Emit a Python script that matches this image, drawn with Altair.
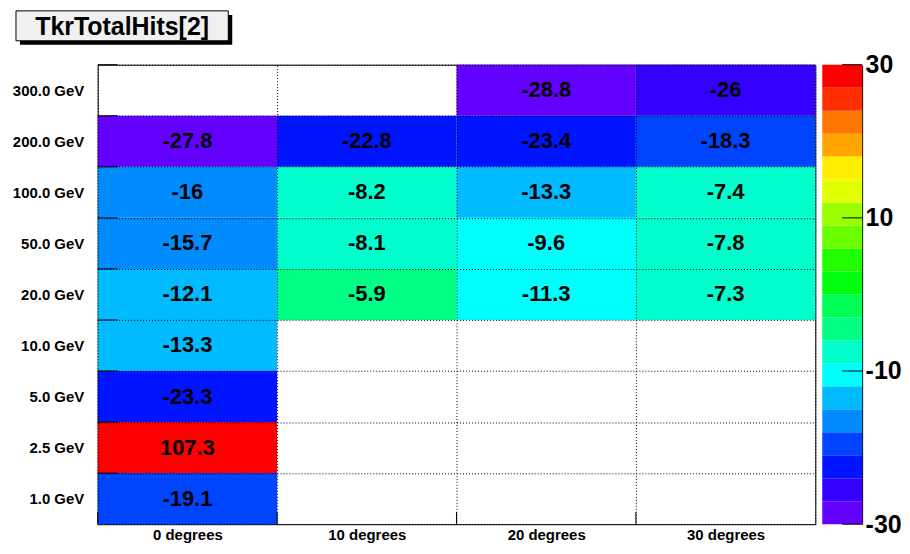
import altair as alt
import pandas as pd

# ---- data ----
title_text = "TkrTotalHits[2]"
angles = ["0 degrees", "10 degrees", "20 degrees", "30 degrees"]
energies = ["1.0 GeV", "2.5 GeV", "5.0 GeV", "10.0 GeV", "20.0 GeV",
            "50.0 GeV", "100.0 GeV", "200.0 GeV", "300.0 GeV"]
# values per energy row, per angle column (None = empty cell)
vals_0deg = [-19.1, 107.3, -23.3, -13.3, -12.1, -15.7, -16.0, -27.8, None]
vals_10deg = [None, None, None, None, -5.9, -8.1, -8.2, -22.8, None]
vals_20deg = [None, None, None, None, -11.3, -9.6, -13.3, -23.4, -28.8]
vals_30deg = [None, None, None, None, -7.3, -7.8, -7.4, -18.3, -26.0]

z_min, z_max = -30, 30
n_levels = 20
cbar_ticks = [-30, -10, 10, 30]

# ROOT "pretty" palette sampled at 20 contour levels
palette = ["#6300ff", "#3300ff", "#0014ff", "#0044ff", "#008bff",
           "#00bbff", "#00fffc", "#00ffcc", "#00ff85", "#00ff55",
           "#00ff0e", "#22ff00", "#69ff00", "#99ff00", "#e0ff00",
           "#ffee00", "#ffa700", "#ff7700", "#ff3000", "#ff0000"]

rows = []
for ang, col in zip(angles, [vals_0deg, vals_10deg, vals_20deg, vals_30deg]):
    for en, v in zip(energies, col):
        if v is not None:
            rows.append({"angle": ang, "energy": en, "value": v, "label": f"{v:g}"})
cells = pd.DataFrame(rows)

step = (z_max - z_min) / n_levels
cbar = pd.DataFrame({"lo": [z_min + i * step for i in range(n_levels)]})
cbar["hi"] = cbar["lo"] + step
cbar["mid"] = cbar["lo"] + step / 2

W, H = 720, 461
CBW = 40
FONT = "Liberation Sans"
y_sort = energies[::-1]

color_scale = alt.Scale(type="quantize", domain=[z_min, z_max], range=palette)

grid_axis = dict(grid=True, gridDash=[1, 2], gridColor="black", gridWidth=1,
                 gridOpacity=1, tickBand="extent", tickSize=0, domain=False,
                 labelFontSize=15, labelFontWeight="bold", labelColor="black",
                 labelFont=FONT, title=None, zindex=1)

xenc = alt.X("angle:N", sort=angles,
             scale=alt.Scale(paddingInner=0, paddingOuter=0),
             axis=alt.Axis(labelAngle=0, labelPadding=3, **grid_axis))
yenc = alt.Y("energy:N", sort=y_sort,
             scale=alt.Scale(paddingInner=0, paddingOuter=0),
             axis=alt.Axis(labelPadding=14, **grid_axis))

heat = alt.Chart(cells).mark_rect().encode(
    x=xenc, y=yenc,
    color=alt.Color("value:Q", scale=color_scale, legend=None),
)
txt = alt.Chart(cells).mark_text(fontSize=22, fontWeight="bold", font=FONT,
                                 color="black", baseline="middle").encode(
    x=alt.X("angle:N", sort=angles), y=alt.Y("energy:N", sort=y_sort),
    text="label:N",
)

ytick_df = pd.DataFrame({"energy": energies})
yticks = alt.Chart(ytick_df).mark_rule(color="black", strokeWidth=1).encode(
    y=alt.Y("energy:N", sort=y_sort, bandPosition=0),
    x=alt.value(0), x2=alt.value(20),
)
xtick_df = pd.DataFrame({"angle": angles})
xticks = alt.Chart(xtick_df).mark_rule(color="black", strokeWidth=1).encode(
    x=alt.X("angle:N", sort=angles, bandPosition=0),
    y=alt.value(H - 12), y2=alt.value(H),
)

title_df = pd.DataFrame({"t": [title_text]})
bx0, bx1, by0, by1 = -82, 131, -54, -24
shadow = alt.Chart(title_df).mark_rect(color="black").encode(
    x=alt.value(bx0 + 4), x2=alt.value(bx1 + 4),
    y=alt.value(by0 + 4), y2=alt.value(by1 + 4),
)
box = alt.Chart(title_df).mark_rect(fill="#f0f0f0", stroke="black", strokeWidth=1).encode(
    x=alt.value(bx0), x2=alt.value(bx1), y=alt.value(by0), y2=alt.value(by1),
)
ttext = alt.Chart(title_df).mark_text(fontSize=25, fontWeight="bold", font=FONT,
                                      color="black", baseline="middle",
                                      align="center").encode(
    x=alt.value((bx0 + bx1) / 2), y=alt.value((by0 + by1) / 2 + 1), text="t:N",
)

main = alt.layer(heat, txt, yticks, xticks, shadow, box, ttext).properties(
    width=W, height=H)

cb_rect = alt.Chart(cbar).mark_rect().encode(
    y=alt.Y("lo:Q", scale=alt.Scale(domain=[z_min, z_max], nice=False, zero=False),
            axis=alt.Axis(orient="right", values=cbar_ticks,
                          labelExpr="'' + datum.value",
                          tickSize=0, grid=False, title=None,
                          labelFontSize=25, labelFontWeight="bold",
                          labelColor="black", labelFont=FONT, labelPadding=3,
                          labelFlush=False, labelOverlap=False,
                          domainColor="black", domainWidth=1)),
    y2="hi:Q",
    x=alt.value(0), x2=alt.value(CBW),
    color=alt.Color("mid:Q", scale=color_scale, legend=None),
)
cb_tick_df = pd.DataFrame({"v": cbar_ticks})
cb_ticks = alt.Chart(cb_tick_df).mark_rule(color="black", strokeWidth=1).encode(
    y=alt.Y("v:Q"), x=alt.value(CBW - 20), x2=alt.value(CBW),
)
colorbar = alt.layer(cb_rect, cb_ticks).properties(
    width=CBW, height=H, view=alt.ViewBackground(stroke="transparent"))

chart = alt.hconcat(
    main, colorbar, spacing=5,
    padding={"left": 3, "top": 1, "right": 0, "bottom": 0},
    background="white",
).resolve_scale(
    x="independent", y="independent"
).configure_view(stroke="black", strokeWidth=1)

chart.save("out.html", embed_options={"renderer": "svg", "actions": False})
